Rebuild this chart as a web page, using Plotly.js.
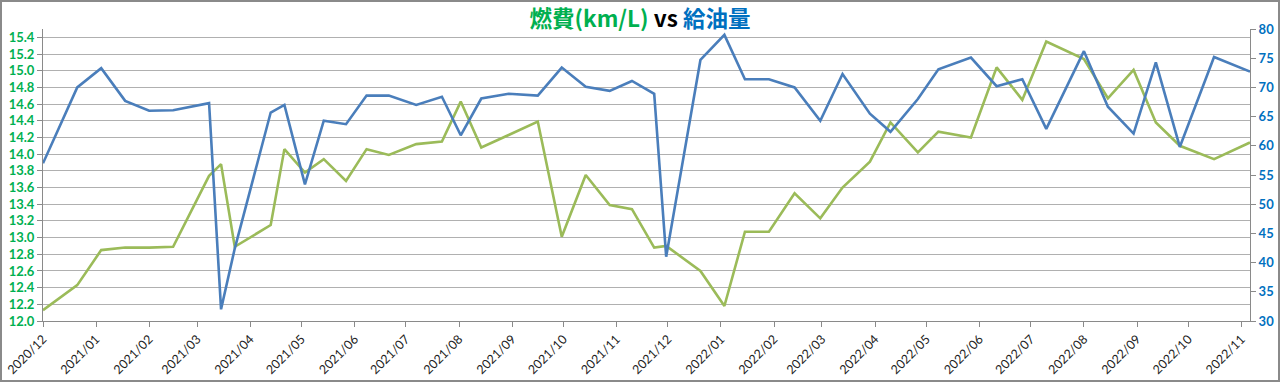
<!DOCTYPE html>
<html>
<head>
<meta charset="utf-8">
<script src="https://cdn.plot.ly/plotly-3.0.1.min.js"></script>
<style>
html,body{margin:0;padding:0;background:#fff;}
#wrap{position:relative;width:1280px;height:382px;}
#chart{position:absolute;left:0;top:0;width:1280px;height:382px;}
#frame{position:absolute;left:0;top:0;width:1276px;height:378px;border:2px solid #8a8a8a;pointer-events:none;}
</style>
</head>
<body>
<div id="wrap"><div id="chart"></div><div id="frame"></div></div>
<script>
const dates = [
"2020-12-01","2020-12-21","2021-01-04","2021-01-18","2021-02-01","2021-02-15","2021-03-08","2021-03-15","2021-03-23","2021-04-13",
"2021-04-21","2021-05-03","2021-05-14","2021-05-27","2021-06-08","2021-06-21","2021-07-07","2021-07-22","2021-08-02","2021-08-14",
"2021-08-30","2021-09-16","2021-09-30","2021-10-14","2021-10-28","2021-11-10","2021-11-23","2021-11-30","2021-12-20","2022-01-03",
"2022-01-15","2022-01-29","2022-02-13","2022-02-28","2022-03-13","2022-03-29","2022-04-10","2022-04-26","2022-05-08","2022-05-27",
"2022-06-11","2022-06-26","2022-07-10","2022-08-01","2022-08-15","2022-08-30","2022-09-12","2022-09-26","2022-10-16","2022-11-06"
];
const fuelEconomy = [
12.13,12.43,12.85,12.88,12.88,12.89,13.74,13.88,12.89,13.15,
14.06,13.78,13.94,13.68,14.06,13.99,14.12,14.15,14.63,14.08,
14.23,14.39,13.01,13.75,13.39,13.34,12.88,12.90,12.60,12.18,
13.07,13.07,13.53,13.23,13.60,13.91,14.38,14.02,14.27,14.20,
15.04,14.65,15.35,15.14,14.67,15.01,14.38,14.10,13.94,14.14
];
const fuelAmount = [
57.0,70.0,73.3,67.7,66.0,66.1,67.3,32.0,42.4,65.7,
67.0,53.4,64.3,63.7,68.6,68.6,67.0,68.4,61.8,68.1,
68.9,68.6,73.4,70.1,69.4,71.1,68.9,41.0,74.7,79.0,
71.4,71.4,70.0,64.3,72.3,65.5,62.4,68.0,73.1,75.1,
70.2,71.4,62.9,76.2,66.7,62.1,74.3,59.8,75.2,72.7
];
const titleParts = ["燃費(km/L)", "vs", "給油量"];

const traces = [
  {x: dates, y: fuelEconomy, type: "scatter", mode: "lines", name: "燃費",
   line: {color: "#9BBB59", width: 2.6}, yaxis: "y"},
  {x: dates, y: fuelAmount, type: "scatter", mode: "lines", name: "給油量",
   line: {color: "#4A7EBB", width: 2.6}, yaxis: "y2"}
];

const layout = {
  width: 1280, height: 382,
  margin: {l: 43, r: 30, t: 29, b: 61, pad: 0},
  paper_bgcolor: "#fff", plot_bgcolor: "#fff",
  showlegend: false,
  font: {family: "Lato, 'Noto Sans CJK JP', sans-serif"},
  title: {
    text: '<b><span style="color:#00B050">' + titleParts[0] + '</span> <span style="color:#000">' + titleParts[1] + '</span> <span style="color:#0070C0">' + titleParts[2] + '</span></b>',
    font: {family: "'Noto Sans CJK JP', sans-serif", size: 22.5},
    x: 0.5, xref: "container", xanchor: "center",
    y: 0.95, yref: "container", yanchor: "middle"
  },
  xaxis: {
    type: "date",
    range: ["2020-12-01", "2022-11-06"],
    tick0: "2020-12-01", dtick: "M1", tickformat: "%Y/%m",
    tickangle: -45,
    ticks: "outside", ticklen: 5, tickcolor: "#8a8a8a",
    showgrid: false, zeroline: false,
    showline: true, linecolor: "#8a8a8a", linewidth: 1,
    tickfont: {family: "Lato, sans-serif", size: 12.5, color: "#222"}
  },
  yaxis: {
    range: [12, 15.5], dtick: 0.2, tick0: 12, tickformat: ".1f",
    ticks: "outside", ticklen: 5, tickcolor: "#8a8a8a",
    showgrid: true, gridcolor: "#b0b0b0", gridwidth: 1,
    zeroline: false, showline: true, linecolor: "#8a8a8a", linewidth: 1,
    tickfont: {family: "Lato, sans-serif", size: 13, color: "#00B050", weight: "bold"}
  },
  yaxis2: {
    range: [30, 80], dtick: 5, tick0: 30,
    overlaying: "y", side: "right",
    ticks: "outside", ticklen: 5, tickcolor: "#8a8a8a",
    showgrid: false, zeroline: false,
    showline: true, linecolor: "#8a8a8a", linewidth: 1,
    tickfont: {family: "Lato, sans-serif", size: 13, color: "#0070C0", weight: "bold"}
  }
};

Plotly.newPlot("chart", traces, layout, {displayModeBar: false, staticPlot: true});
</script>
</body>
</html>
